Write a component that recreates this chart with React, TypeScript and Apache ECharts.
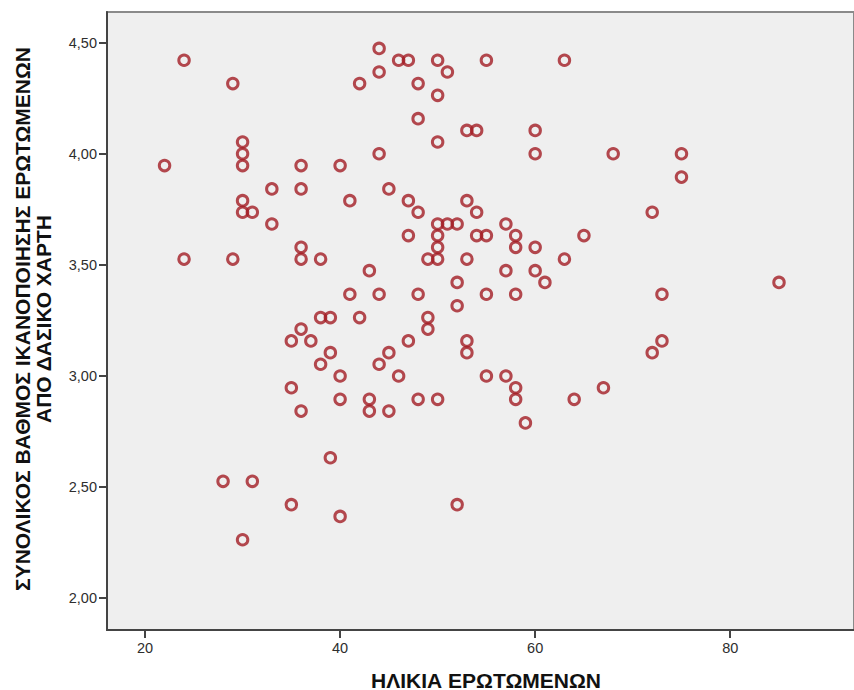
import React, { useEffect, useRef } from "react";
import * as echarts from "echarts";

const ages: number[] = [
  44,
  24, 46, 47, 50, 55, 63,
  44, 51,
  29, 42, 48,
  50,
  48,
  53, 54, 60,
  30, 50,
  30, 44, 60, 68, 75,
  22, 30, 36, 40,
  75,
  33, 36, 45,
  30, 41, 47, 53,
  30, 31, 48, 54, 72,
  33, 50, 51, 52, 57,
  47, 50, 54, 55, 58, 65,
  36, 50, 58, 60,
  24, 29, 36, 38, 49, 50, 53, 63,
  43, 57, 60,
  52, 61, 85,
  41, 44, 48, 55, 58, 73,
  52,
  38, 39, 42, 49,
  36, 49,
  35, 37, 47, 53, 73,
  39, 45, 53, 72,
  38, 44,
  40, 46, 55, 57,
  35, 58, 67,
  40, 43, 48, 50, 58, 64,
  36, 43, 45,
  59,
  39,
  28, 31,
  35, 52,
  40,
  30,
];

const scores: number[] = [
  4.474,
  4.421, 4.421, 4.421, 4.421, 4.421, 4.421,
  4.368, 4.368,
  4.316, 4.316, 4.316,
  4.263,
  4.158,
  4.105, 4.105, 4.105,
  4.053, 4.053,
  4.0, 4.0, 4.0, 4.0, 4.0,
  3.947, 3.947, 3.947, 3.947,
  3.895,
  3.842, 3.842, 3.842,
  3.789, 3.789, 3.789, 3.789,
  3.737, 3.737, 3.737, 3.737, 3.737,
  3.684, 3.684, 3.684, 3.684, 3.684,
  3.632, 3.632, 3.632, 3.632, 3.632, 3.632,
  3.579, 3.579, 3.579, 3.579,
  3.526, 3.526, 3.526, 3.526, 3.526, 3.526, 3.526, 3.526,
  3.474, 3.474, 3.474,
  3.421, 3.421, 3.421,
  3.368, 3.368, 3.368, 3.368, 3.368, 3.368,
  3.316,
  3.263, 3.263, 3.263, 3.263,
  3.211, 3.211,
  3.158, 3.158, 3.158, 3.158, 3.158,
  3.105, 3.105, 3.105, 3.105,
  3.053, 3.053,
  3.0, 3.0, 3.0, 3.0,
  2.947, 2.947, 2.947,
  2.895, 2.895, 2.895, 2.895, 2.895, 2.895,
  2.842, 2.842, 2.842,
  2.789,
  2.632,
  2.526, 2.526,
  2.421, 2.421,
  2.368,
  2.263,
];

const xTicks: number[] = [20, 40, 60, 80];
const yTicks: number[] = [2.0, 2.5, 3.0, 3.5, 4.0, 4.5];

const xTitle = "ΗΛΙΚΙΑ ΕΡΩΤΩΜΕΝΩΝ";
const yTitleLines: string[] = [
  "ΣΥΝΟΛΙΚΟΣ ΒΑΘΜΟΣ ΙΚΑΝΟΠΟΙΗΣΗΣ ΕΡΩΤΩΜΕΝΩΝ",
  "ΑΠΟ ΔΑΣΙΚΟ ΧΑΡΤΗ",
];

const FONT = '"Liberation Sans", Arial, sans-serif';

export default function App() {
  const ref = useRef<HTMLDivElement>(null);

  useEffect(() => {
    if (!ref.current) return;
    const chart = echarts.init(ref.current, null, { renderer: "svg" });
    const data = ages.map((a, i) => [a, scores[i]]);
    const axisColor = "#444444";
    chart.setOption({
      animation: false,
      backgroundColor: "#ffffff",
      grid: {
        left: 107,
        top: 12,
        width: 748,
        height: 618,
        show: true,
        backgroundColor: "#efefef",
        borderColor: "#8a8a8a",
        borderWidth: 2,
      },
      xAxis: {
        type: "value",
        min: 16.1,
        max: 92.69,
        splitLine: { show: false },
        axisLine: { show: true, onZero: false, lineStyle: { color: axisColor, width: 2 } },
        axisTick: {
          show: true,
          customValues: xTicks,
          length: 8,
          lineStyle: { color: axisColor, width: 2 },
        },
        axisLabel: {
          customValues: xTicks,
          margin: 10,
          color: "#2e2e2e",
          fontSize: 14.5,
          fontFamily: FONT,
          formatter: (v: number) => String(v),
        },
      },
      yAxis: {
        type: "value",
        min: 1.857,
        max: 4.638,
        splitLine: { show: false },
        axisLine: { show: true, onZero: false, lineStyle: { color: axisColor, width: 2 } },
        axisTick: {
          show: true,
          customValues: yTicks,
          length: 8,
          lineStyle: { color: axisColor, width: 2 },
        },
        axisLabel: {
          customValues: yTicks,
          margin: 10,
          color: "#2e2e2e",
          fontSize: 14.5,
          fontFamily: FONT,
          formatter: (v: number) => v.toFixed(2).replace(".", ","),
        },
      },
      series: [
        {
          type: "scatter",
          data,
          symbol: "circle",
          symbolSize: 10.5,
          itemStyle: {
            color: "rgba(0,0,0,0)",
            borderColor: "#a31d24",
            borderWidth: 3,
          },
        },
      ],
      graphic: [
        {
          type: "text",
          x: 486,
          y: 680,
          style: {
            text: xTitle,
            align: "center",
            verticalAlign: "middle",
            font: `bold 21px ${FONT}`,
            fill: "#111111",
          },
        },
        {
          type: "text",
          x: 33,
          y: 319,
          rotation: Math.PI / 2,
          style: {
            text: yTitleLines.join("\n"),
            align: "center",
            verticalAlign: "middle",
            lineHeight: 21,
            font: `bold 21px ${FONT}`,
            fill: "#111111",
          },
        },
      ],
    });
    return () => chart.dispose();
  }, []);

  return (
    <div
      ref={ref}
      style={{ position: "absolute", left: 0, top: 0, width: 854, height: 690 }}
    />
  );
}
